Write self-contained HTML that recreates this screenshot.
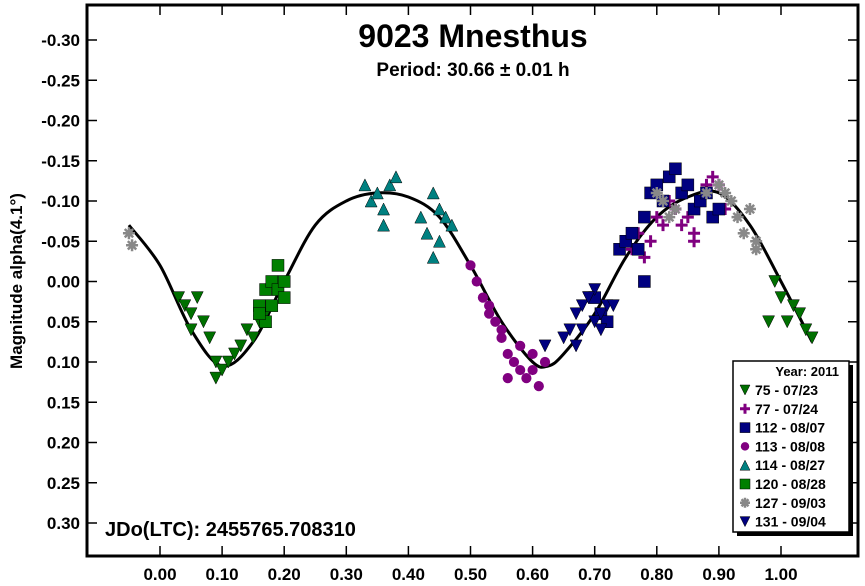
<!DOCTYPE html>
<html><head><meta charset="utf-8"><style>
body{margin:0;background:#fff;width:865px;height:581px;overflow:hidden}
svg{font-family:"Liberation Sans",sans-serif;font-weight:bold}
</style></head><body>
<svg id="c" width="865" height="581"></svg>
<script>
const curvePhase=[-0.05,0,0.05,0.1,0.15,0.2,0.25,0.3,0.35,0.4,0.45,0.5,0.55,0.6,0.625,0.65,0.7,0.75,0.8,0.85,0.9,0.95,1.0,1.05];
const curveMag=[-0.07,-0.02,0.06,0.105,0.075,0.0,-0.07,-0.10,-0.11,-0.105,-0.08,-0.02,0.05,0.10,0.105,0.09,0.04,-0.03,-0.08,-0.105,-0.11,-0.07,0.0,0.075];
const xTicks=[0,0.1,0.2,0.3,0.4,0.5,0.6,0.7,0.8,0.9,1.0];
const yTicks=[-0.30,-0.25,-0.20,-0.15,-0.10,-0.05,0,0.05,0.10,0.15,0.20,0.25,0.30];
const s75x=[0.03,0.04,0.05,0.06,0.07,0.05,0.08,0.09,0.09,0.10,0.11,0.12,0.13,0.14,0.15,0.16,0.17,0.99,1.0,1.02,1.03,1.01,1.04,1.05,0.98];
const s75y=[0.02,0.03,0.04,0.02,0.05,0.06,0.07,0.10,0.12,0.11,0.10,0.09,0.08,0.06,0.07,0.05,0.04,0.0,0.02,0.03,0.04,0.05,0.06,0.07,0.05];
const s77x=[0.75,0.76,0.77,0.78,0.79,0.80,0.81,0.82,0.83,0.84,0.85,0.86,0.87,0.88,0.89,0.90,0.91,0.84,0.86];
const s77y=[-0.05,-0.04,-0.06,-0.03,-0.05,-0.08,-0.07,-0.10,-0.09,-0.11,-0.08,-0.06,-0.10,-0.12,-0.13,-0.12,-0.09,-0.07,-0.05];
const s112x=[0.74,0.75,0.76,0.77,0.78,0.79,0.80,0.81,0.82,0.83,0.84,0.85,0.86,0.87,0.88,0.89,0.90,0.70,0.71,0.72,0.78];
const s112y=[-0.04,-0.05,-0.06,-0.04,-0.08,-0.11,-0.12,-0.10,-0.13,-0.14,-0.11,-0.12,-0.09,-0.10,-0.11,-0.08,-0.09,0.02,0.04,0.05,0.0];
const s113x=[0.50,0.51,0.52,0.53,0.54,0.55,0.56,0.57,0.58,0.59,0.60,0.61,0.62,0.58,0.56,0.60,0.53,0.55];
const s113y=[-0.02,0.0,0.02,0.03,0.05,0.06,0.09,0.10,0.11,0.12,0.11,0.13,0.10,0.08,0.12,0.09,0.04,0.07];
const s114x=[0.33,0.34,0.35,0.36,0.37,0.38,0.36,0.42,0.43,0.44,0.45,0.46,0.45,0.47,0.44];
const s114y=[-0.12,-0.10,-0.11,-0.09,-0.12,-0.13,-0.07,-0.08,-0.06,-0.11,-0.09,-0.08,-0.05,-0.07,-0.03];
const s120x=[0.16,0.17,0.18,0.19,0.19,0.20,0.18,0.17,0.16,0.20];
const s120y=[0.03,0.01,0.0,-0.02,0.01,0.02,0.03,0.05,0.04,0.0];
const s127x=[-0.05,-0.045,0.80,0.81,0.82,0.83,0.88,0.90,0.91,0.92,0.93,0.94,0.95,0.96,0.96];
const s127y=[-0.06,-0.045,-0.11,-0.10,-0.08,-0.09,-0.11,-0.12,-0.11,-0.10,-0.08,-0.06,-0.09,-0.05,-0.04];
const s131x=[0.62,0.65,0.66,0.67,0.68,0.69,0.70,0.71,0.72,0.70,0.68,0.69,0.71,0.73,0.67];
const s131y=[0.08,0.07,0.06,0.04,0.03,0.02,0.05,0.04,0.03,0.01,0.06,0.02,0.06,0.03,0.08];
const NS="http://www.w3.org/2000/svg";
const svg=document.getElementById('c');
const X=p=>160+p*621, Y=m=>281.5+m*805;
function el(t,a,p){const e=document.createElementNS(NS,t);for(const k in a)e.setAttribute(k,a[k]);(p||svg).appendChild(e);return e;}
function txt(x,y,s,size,anchor){const e=el('text',{x:x,y:y,'font-size':size,'text-anchor':anchor||'start',fill:'#000'});e.textContent=s;return e;}
const frame=el('rect',{x:87,y:5,width:771,height:551,fill:'none',stroke:'#000','stroke-width':3});


xTicks.forEach(v=>{const x=X(v);
 el('line',{x1:x,x2:x,y1:556,y2:546,stroke:'#000','stroke-width':1.5});
 el('line',{x1:x,x2:x,y1:5,y2:15,stroke:'#000','stroke-width':1.5});
 const t=txt(x,580,v.toFixed(2),17,'middle');
 
 });
yTicks.forEach(v=>{const y=Y(v);
 el('line',{x1:87,x2:97,y1:y,y2:y,stroke:'#000','stroke-width':1.5});
 el('line',{x1:848,x2:858,y1:y,y2:y,stroke:'#000','stroke-width':1.5});
 const t=txt(80,y+6,(v<0?'-':'')+Math.abs(v).toFixed(2),17,'end');
 
 });
const yt=txt(0,0,'Magnitude alpha(4.1°)',17,'middle');
yt.setAttribute('transform','translate(22,281) rotate(-90)');


const ti=txt(473,47,'9023 Mnesthus',32,'middle');


const pe=txt(473,76,'Period: 30.66 ± 0.01 h',19,'middle');


const jd=txt(105,536,'JDo(LTC): 2455765.708310',20,'start');


// smooth curve (Catmull-Rom)
const P=curvePhase.map((p,i)=>[X(p),Y(curveMag[i])]);
let d='M'+P[0][0].toFixed(1)+','+P[0][1].toFixed(1);
for(let i=0;i<P.length-1;i++){
 const p0=P[Math.max(0,i-1)],p1=P[i],p2=P[i+1],p3=P[Math.min(P.length-1,i+2)];
 const c1=[p1[0]+(p2[0]-p0[0])/6,p1[1]+(p2[1]-p0[1])/6];
 const c2=[p2[0]-(p3[0]-p1[0])/6,p2[1]-(p3[1]-p1[1])/6];
 d+=`C${c1[0].toFixed(1)},${c1[1].toFixed(1)} ${c2[0].toFixed(1)},${c2[1].toFixed(1)} ${p2[0].toFixed(1)},${p2[1].toFixed(1)}`;
}
const cv=el('path',{d:d,fill:'none',stroke:'#000','stroke-width':3,'stroke-linejoin':'round'});


function mark(g,shape,color,x,y,r){
 if(shape==='dtri')return el('polygon',{points:`${x-r},${y-r} ${x+r},${y-r} ${x},${y+r}`,fill:color,stroke:'#000','stroke-width':0.5},g);
 if(shape==='utri')return el('polygon',{points:`${x-r},${y+r} ${x+r},${y+r} ${x},${y-r}`,fill:color,stroke:'#000','stroke-width':0.5},g);
 if(shape==='sq')return el('rect',{x:x-r,y:y-r,width:2*r,height:2*r,fill:color,stroke:'#000','stroke-width':0.5},g);
 if(shape==='circ')return el('circle',{cx:x,cy:y,r:r*0.85,fill:color},g);
 if(shape==='plus'){return el('path',{d:`M${x-r},${y}H${x+r}M${x},${y-r}V${y+r}`,stroke:color,'stroke-width':3},g);}
 if(shape==='star'){return el('path',{d:`M${x-r},${y}H${x+r}M${x},${y-r}V${y+r}M${x-r*.7},${y-r*.7}L${x+r*.7},${y+r*.7}M${x-r*.7},${y+r*.7}L${x+r*.7},${y-r*.7}`,stroke:color,'stroke-width':2.5},g);}
}
const series=[
 ['75 - 07/23','dtri','#007000',s75x,s75y,'series-75'],
 ['77 - 07/24','plus','#800080',s77x,s77y,'series-77'],
 ['112 - 08/07','sq','#000080',s112x,s112y,'series-112'],
 ['113 - 08/08','circ','#800080',s113x,s113y,'series-113'],
 ['114 - 08/27','utri','#008080',s114x,s114y,'series-114'],
 ['120 - 08/28','sq','#008000',s120x,s120y,'series-120'],
 ['127 - 09/03','star','#888888',s127x,s127y,'series-127'],
 ['131 - 09/04','dtri','#000080',s131x,s131y,'series-131']];
series.forEach(s=>{const g=el('g',{});
 
 
 s[3].forEach((p,i)=>{const m=mark(g,s[1],s[2],X(p),Y(s[4][i]),6);
  
  });});
// legend
const lg=el('g',{});


el('rect',{x:737,y:365,width:116,height:171,fill:'#000'},lg);
el('rect',{x:733,y:361,width:116,height:171,fill:'#fff',stroke:'#000','stroke-width':1.5},lg);
const lh=txt(839,376,'Year: 2011',13,'end');lg.appendChild(lh);
series.forEach((s,i)=>{const y=395+i*18.8;
 mark(lg,s[1],s[2],745,y-5,5);
 const t=txt(755,y,s[0],14,'start');lg.appendChild(t);
 
 });
</script>
</body></html>
